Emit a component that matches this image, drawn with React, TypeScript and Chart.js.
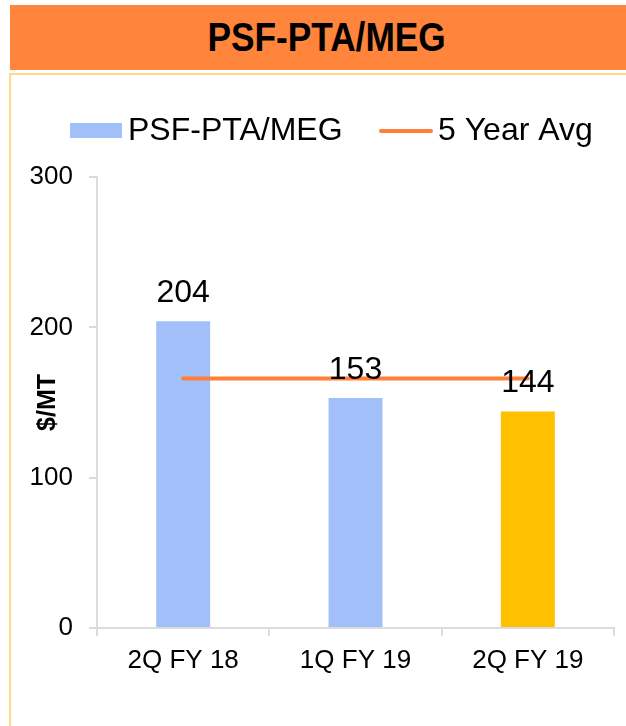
import React, { useEffect, useRef } from "react";
import { Chart, registerables } from "chart.js";

Chart.register(...registerables);

const title = "PSF-PTA/MEG";
const categories = ["2Q FY 18", "1Q FY 19", "2Q FY 19"];
const barLabel = "PSF-PTA/MEG";
const barValues = [204, 153, 144];
const barColors = ["#A1C0FA", "#A1C0FA", "#FFC000"];
const avgLabel = "5 Year Avg";
const avgValues = [166, 166, 166];
const yMin = 0;
const yMax = 300;
const yStep = 100;
const yTitle = "$/MT";

const FONT = "'Liberation Sans', Arial, sans-serif";
const LINE_COLOR = "#FF7F3A";
const AXIS_COLOR = "#DCDCDC";

const valueLabelPlugin = {
  id: "valueLabels",
  afterDatasetsDraw(chart: any) {
    const meta = chart.getDatasetMeta(0);
    const ctx = chart.ctx;
    ctx.save();
    ctx.font = `32px ${FONT}`;
    ctx.fillStyle = "#000";
    ctx.textAlign = "center";
    ctx.textBaseline = "middle";
    meta.data.forEach((el: any, i: number) => {
      ctx.fillText(String(chart.data.datasets[0].data[i]), el.x, el.y - 28);
    });
    ctx.restore();
  },
};

const legendPlugin = {
  id: "customLegend",
  afterDraw(chart: any) {
    const ctx = chart.ctx;
    const ds = chart.data.datasets;
    const cy = 55;
    ctx.save();
    ctx.font = `32px ${FONT}`;
    ctx.textAlign = "left";
    ctx.textBaseline = "middle";
    ctx.fillStyle = barColors[0];
    ctx.fillRect(58, cy - 8, 52, 15);
    ctx.fillStyle = "#000";
    ctx.fillText(ds[0].label, 116, cy);
    ctx.strokeStyle = ds[1].borderColor;
    ctx.lineWidth = 4;
    ctx.lineCap = "round";
    ctx.beginPath();
    ctx.moveTo(369, cy);
    ctx.lineTo(419, cy);
    ctx.stroke();
    ctx.fillText(ds[1].label, 426, cy);
    ctx.restore();
  },
};

function ChartView() {
  const ref = useRef<HTMLCanvasElement | null>(null);
  useEffect(() => {
    if (!ref.current) return;
    const chart = new Chart(ref.current, {
      type: "bar",
      data: {
        labels: categories,
        datasets: [
          {
            type: "bar",
            label: barLabel,
            data: barValues,
            backgroundColor: barColors,
            borderWidth: 0,
            barPercentage: 0.313,
            categoryPercentage: 1,
            order: 1,
          },
          {
            type: "line",
            label: avgLabel,
            data: avgValues,
            borderColor: LINE_COLOR,
            backgroundColor: LINE_COLOR,
            borderWidth: 4,
            borderCapStyle: "round",
            pointRadius: 0,
            fill: false,
            order: 0,
          },
        ],
      } as any,
      options: {
        responsive: false,
        animation: false,
        layout: { padding: { top: 101, right: 12, left: 0, bottom: 0 } },
        plugins: {
          legend: { display: false },
          tooltip: { enabled: false },
          title: { display: false },
        },
        scales: {
          x: {
            offset: true,
            grid: {
              offset: true,
              display: true,
              drawOnChartArea: false,
              drawTicks: true,
              tickLength: 8,
              color: AXIS_COLOR,
              lineWidth: 2,
            },
            border: { display: true, color: AXIS_COLOR, width: 2 },
            ticks: {
              color: "#000",
              padding: 9,
              font: { family: FONT, size: 26 },
              maxRotation: 0,
              autoSkip: false,
            },
            afterFit(scale: any) {
              scale.height = 98;
            },
          },
          y: {
            min: yMin,
            max: yMax,
            grid: {
              display: true,
              drawOnChartArea: false,
              drawTicks: true,
              tickLength: 8,
              color: AXIS_COLOR,
              lineWidth: 2,
            },
            border: { display: true, color: AXIS_COLOR, width: 2 },
            ticks: {
              stepSize: yStep,
              color: "#000",
              padding: 16,
              font: { family: FONT, size: 26 },
            },
            title: {
              display: true,
              text: yTitle,
              color: "#000",
              font: { family: FONT, size: 25, weight: "bold", lineHeight: 1.2 },
              padding: { top: 21, bottom: 0 },
            },
            afterFit(scale: any) {
              scale.width = 85;
            },
          },
        },
      } as any,
      plugins: [valueLabelPlugin, legendPlugin],
    });
    return () => chart.destroy();
  }, []);
  return (
    <canvas
      ref={ref}
      width={614}
      height={650}
      style={{ position: "absolute", left: 12, top: 76, width: 614, height: 650 }}
    />
  );
}

export default function App() {
  return (
    <div
      style={{
        position: "absolute",
        left: 0,
        top: 0,
        width: 626,
        height: 726,
        overflow: "hidden",
        background: "#fff",
        fontFamily: FONT,
      }}
    >
      <div
        style={{
          position: "absolute",
          left: 10,
          top: 5,
          width: 616,
          height: 65,
          background: "#FF843C",
          boxSizing: "border-box",
          paddingLeft: 18,
          textAlign: "center",
          lineHeight: "65px",
          color: "#000",
        }}
      >
        <span
          style={{
            display: "inline-block",
            fontSize: 41,
            fontWeight: "bold",
            fontFamily: FONT,
            transform: "scaleX(0.86)",
          }}
        >
          {title}
        </span>
      </div>
      <div
        style={{
          position: "absolute",
          left: 9,
          top: 73,
          width: 617,
          height: 653,
          boxSizing: "border-box",
          borderLeft: "2px solid #FFD98A",
          borderTop: "2px solid #FFD98A",
        }}
      />
      <ChartView />
    </div>
  );
}
